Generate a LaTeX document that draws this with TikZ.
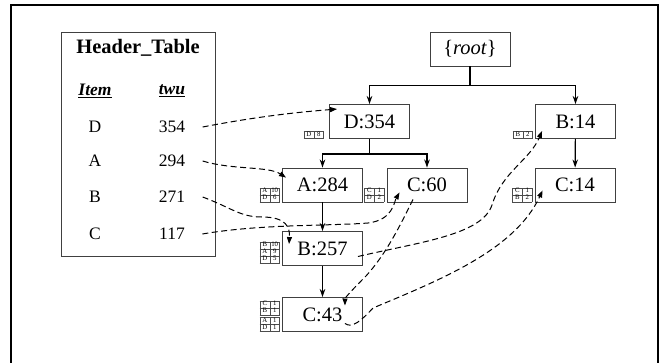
\documentclass[tikz,border=0pt]{standalone}
\usepackage{fontspec}
\setmainfont{Liberation Serif}
\usepackage{array}
\usepackage{colortbl}
\usetikzlibrary{arrows.meta,calc}
\newcolumntype{C}{>{\centering\arraybackslash}p{7.5pt}}
\begin{document}
\begin{tikzpicture}[x=1pt,y=-1pt,
  box/.style={draw=black!75, line width=0.9pt, minimum width=80pt, minimum height=34pt, inner sep=0pt, font=\fontsize{20.5}{22}\selectfont},
  tree/.style={line width=1.2pt, -{Stealth[length=8pt,width=5.5pt]}},
  link/.style={line width=1pt, dash pattern=on 6pt off 3.5pt, -{Triangle[length=7pt,width=5pt]}},
  stab/.style={inner sep=0pt, anchor=south east, draw=none, font={\fontsize{6.8}{6}\selectfont\renewcommand\arraystretch{1.1}\setlength\tabcolsep{1pt}\arrayrulecolor{black!70}}},
  hd/.style={font=\fontsize{17.5}{19}\selectfont},
  hdb/.style={font=\bfseries\itshape\fontsize{17.5}{19}\selectfont}
]
\useasboundingbox (0,0) rectangle (664,362);
\draw[line width=1.6pt] (11,372) -- (11,5) -- (658,5) -- (658,372);

% header table
\node[draw=black!75, line width=0.9pt, minimum width=154pt, minimum height=224pt, inner sep=0pt] (ht) at (138,144) {};
\node[font=\bfseries\fontsize{20.5}{22}\selectfont] (htitle) at (138,48) {Header\_Table};
\node[hdb] (hitem) at (95,91) {\underline{Item}};
\node[hdb] (htwu) at (172,91) {\underline{twu}};
\node[hd] (iD) at (95,127) {D};
\node[hd] (n354) at (172,127) {354};
\node[hd] (iA) at (95,161) {A};
\node[hd] (n294) at (172,161) {294};
\node[hd] (iB) at (95,197) {B};
\node[hd] (n271) at (172,197) {271};
\node[hd] (iC) at (95,234) {C};
\node[hd] (n117) at (172,234) {117};

% tree nodes
\node[box] (root) at (470,49) {\{\textit{root}\}};
\node[box] (d354) at (369.5,121.5) {D:354};
\node[box] (b14) at (575.5,121.5) {B:14};
\node[box] (a284) at (322.5,185) {A:284};
\node[box] (c60) at (427,185) {C:60};
\node[box] (c14) at (575,185) {C:14};
\node[box] (b257) at (322.5,248.5) {B:257};
\node[box] (c43) at (322.5,314.5) {C:43};

% small count tables
\node[stab] (tD) at ([xshift=-5]d354.south west) {\begin{tabular}{|C|C|}\hline D&8\\\hline\end{tabular}};
\node[stab] (tB) at ([xshift=-2]b14.south west) {\begin{tabular}{|C|C|}\hline B&2\\\hline\end{tabular}};
\node[stab] (tA) at ([xshift=-2]a284.south west) {\begin{tabular}{|C|C|}\hline A&10\\\hline D&6\\\hline\end{tabular}};
\node[stab] (tC60) at ([xshift=-2]c60.south west) {\begin{tabular}{|C|C|}\hline C&1\\\hline D&2\\\hline\end{tabular}};
\node[stab] (tC14) at ([xshift=-2]c14.south west) {\begin{tabular}{|C|C|}\hline C&1\\\hline B&2\\\hline\end{tabular}};
\node[stab] (tB257) at ([shift={(-2,-2.5)}]b257.south west) {\begin{tabular}{|C|C|}\hline B&10\\\hline A&9\\\hline D&5\\\hline\end{tabular}};
\node[stab] (tC43) at ([xshift=-2]c43.south west) {\begin{tabular}{|C|C|}\hline C&1\\\hline B&1\\\hline\hline A&1\\\hline D&1\\\hline\end{tabular}};

% tree edges
\coordinate (rj) at ($(root.south)+(0,19)$);
\coordinate (dj) at ($(d354.south)+(0,15)$);
\draw[line width=1.2pt] (root.south) -- (rj);
\draw[tree] (rj) -| (d354.north);
\draw[tree] (rj) -| (b14.north);
\draw[line width=1.2pt] (d354.south) -- (dj);
\draw[tree] (dj) -| (a284.north);
\draw[tree] (dj) -| (c60.north);
\draw[tree] (a284) -- (b257);
\draw[tree] (b257) -- (c43);
\draw[tree] (b14) -- (c14);

% node links
\draw[link] ([xshift=14]n354.east) .. controls (260,116) and (300,112) .. ([shift={(8,5)}]d354.north west);
\draw[link] ([xshift=14]n294.east) .. controls (232,170) and (268,166) .. ([shift={(4,10)}]a284.north west);
\draw[link] ([xshift=14]n271.east) .. controls (232,208) and (240,217) .. (262,217) .. controls (287,217) and (290,228) .. ([shift={(7,13)}]b257.north west);
\draw[link] ([xshift=14]n117.east) .. controls (260,224) and (330,226) .. (368,223) .. controls (393,220) and (394,202) .. ([shift={(13,-10)}]c60.south west);
\draw[link] ([shift={(-5,8)}]b257.east) .. controls (420,242) and (482,235) .. (492,205) .. controls (502,172) and (530,160) .. ([shift={(7,-8)}]b14.south west);
\draw[link] ([shift={(-14,-3)}]c60.south) .. controls (398,230) and (385,255) .. (366,276) .. controls (350,292) and (345,298) .. ([shift={(-18,-9)}]c43.east);
\draw[link] ([shift={(-18,9)}]c43.east) .. controls (352,329) and (362,320) .. (373,308) .. controls (440,280) and (515,250) .. ([shift={(8,-12)}]c14.south west);
\end{tikzpicture}
\end{document}
